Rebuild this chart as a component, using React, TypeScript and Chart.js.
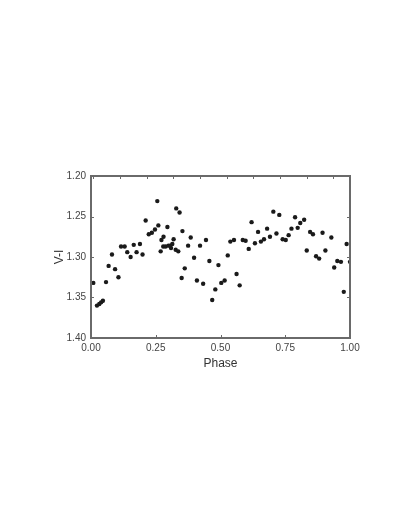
import React, { useEffect, useRef } from "react";
import { Chart, registerables } from "chart.js";

Chart.register(...registerables);

const phase = [
  0.009, 0.023, 0.032, 0.039, 0.046, 0.058, 0.068, 0.081, 0.093, 0.106,
  0.116, 0.130, 0.140, 0.153, 0.165, 0.176, 0.189, 0.199, 0.211, 0.223,
  0.235, 0.247, 0.256, 0.260, 0.269, 0.272, 0.280, 0.279, 0.288, 0.295,
  0.299, 0.306, 0.309, 0.314, 0.319, 0.327, 0.329, 0.337, 0.342, 0.350,
  0.353, 0.362, 0.375, 0.385, 0.398, 0.409, 0.421, 0.433, 0.444, 0.457,
  0.468, 0.480, 0.492, 0.503, 0.516, 0.528, 0.538, 0.552, 0.562, 0.574,
  0.586, 0.597, 0.609, 0.620, 0.633, 0.645, 0.656, 0.668, 0.680, 0.691,
  0.704, 0.716, 0.727, 0.740, 0.752, 0.763, 0.774, 0.788, 0.798, 0.808,
  0.823, 0.833, 0.846, 0.857, 0.869, 0.881, 0.894, 0.905, 0.928, 0.939,
  0.951, 0.965, 0.976, 0.987, 1.000,
];

const vMinusI = [
  1.332, 1.360, 1.358, 1.356, 1.354, 1.331, 1.311, 1.297, 1.315, 1.325,
  1.287, 1.287, 1.294, 1.300, 1.285, 1.294, 1.284, 1.297, 1.255, 1.272,
  1.270, 1.266, 1.231, 1.261, 1.293, 1.279, 1.275, 1.287, 1.287, 1.263,
  1.286, 1.286, 1.289, 1.284, 1.278, 1.291, 1.240, 1.293, 1.245, 1.326,
  1.268, 1.314, 1.286, 1.276, 1.301, 1.329, 1.286, 1.333, 1.279, 1.305,
  1.353, 1.340, 1.310, 1.332, 1.329, 1.298, 1.281, 1.279, 1.321, 1.335,
  1.279, 1.280, 1.290, 1.257, 1.283, 1.269, 1.281, 1.278, 1.265, 1.275,
  1.244, 1.271, 1.248, 1.278, 1.279, 1.273, 1.265, 1.251, 1.264, 1.258,
  1.254, 1.292, 1.269, 1.272, 1.299, 1.302, 1.270, 1.292, 1.276, 1.313,
  1.305, 1.306, 1.343, 1.284, 1.306,
];

const xTicks = { min: 0, max: 1, step: 0.25 };
const yTicks = { min: 1.2, max: 1.4, step: 0.05 };
// top axis carries unlabeled minor marks on its own spacing
const topMarks = { min: -0.0875, max: 9.625, step: 1 };

const FRAME = "#6a6a6a";

const framePlugin = {
  id: "frameTicks",
  afterDatasetsDraw(chart: any) {
    const { ctx, chartArea: a, scales } = chart;
    const len = 3;
    ctx.save();
    ctx.strokeStyle = FRAME;
    ctx.lineWidth = 1;
    ctx.beginPath();
    scales.x.ticks.forEach((t: any) => {
      const px = Math.round(scales.x.getPixelForValue(t.value)) + 0.5;
      ctx.moveTo(px, a.bottom);
      ctx.lineTo(px, a.bottom - len);
    });
    scales.x2.ticks.forEach((t: any) => {
      const px = Math.round(scales.x2.getPixelForValue(t.value)) + 0.5;
      ctx.moveTo(px, a.top);
      ctx.lineTo(px, a.top + len);
    });
    scales.y.ticks.forEach((t: any) => {
      const py = Math.round(scales.y.getPixelForValue(t.value)) + 0.5;
      ctx.moveTo(a.left, py);
      ctx.lineTo(a.left + len, py);
      ctx.moveTo(a.right, py);
      ctx.lineTo(a.right - len, py);
    });
    ctx.stroke();
    ctx.lineWidth = 2;
    ctx.strokeRect(a.left, a.top, a.right - a.left, a.bottom - a.top);
    ctx.restore();
  },
};

export default function App() {
  const ref = useRef<HTMLCanvasElement | null>(null);

  useEffect(() => {
    if (!ref.current) return;
    const chart = new Chart(ref.current, {
      type: "scatter",
      data: {
        datasets: [
          {
            data: phase.map((p, i) => ({ x: p, y: vMinusI[i] })),
            backgroundColor: "#1a1a1a",
            borderWidth: 0,
            pointRadius: 2.2,
          },
        ],
      },
      options: {
        animation: false,
        responsive: false,
        maintainAspectRatio: false,
        layout: { padding: { left: 50, top: 176, right: 59, bottom: 158 } },
        plugins: { legend: { display: false }, tooltip: { enabled: false } },
        scales: {
          x: {
            type: "linear",
            position: "bottom",
            min: xTicks.min,
            max: xTicks.max,
            grid: { display: false, drawTicks: false },
            border: { display: false },
            ticks: {
              stepSize: xTicks.step,
              padding: 4,
              color: "#444",
              font: { family: "'Liberation Sans', Arial, sans-serif", size: 10 },
              callback: (v: any) => Number(v).toFixed(2),
            },
            title: {
              display: true,
              text: "Phase",
              color: "#333",
              padding: { top: 0, bottom: 0 },
              font: { family: "'Liberation Sans', Arial, sans-serif", size: 12 },
            },
            afterFit: (s: any) => {
              s.height = 33;
            },
          },
          x2: {
            type: "linear",
            position: "top",
            min: topMarks.min,
            max: topMarks.max,
            grid: { display: false, drawTicks: false },
            border: { display: false },
            ticks: { display: false, stepSize: topMarks.step, includeBounds: false },
            afterFit: (s: any) => {
              s.height = 0;
            },
          },
          y: {
            type: "linear",
            position: "left",
            reverse: true,
            min: yTicks.min,
            max: yTicks.max,
            grid: { display: false, drawTicks: false },
            border: { display: false },
            ticks: {
              stepSize: yTicks.step,
              padding: 5,
              color: "#444",
              font: { family: "'Liberation Sans', Arial, sans-serif", size: 10 },
              callback: (v: any) => Number(v).toFixed(2),
            },
            title: {
              display: true,
              text: "V-I",
              color: "#333",
              padding: { top: 2, bottom: 0 },
              font: { family: "'Liberation Sans', Arial, sans-serif", size: 12 },
            },
            afterFit: (s: any) => {
              s.width = 41;
            },
          },
        },
      },
      plugins: [framePlugin],
    });
    return () => chart.destroy();
  }, []);

  return (
    <div style={{ position: "fixed", left: 0, top: 0, width: 409, height: 529, background: "#fff" }}>
      <canvas ref={ref} width={409} height={529} style={{ width: 409, height: 529, display: "block" }} />
    </div>
  );
}
